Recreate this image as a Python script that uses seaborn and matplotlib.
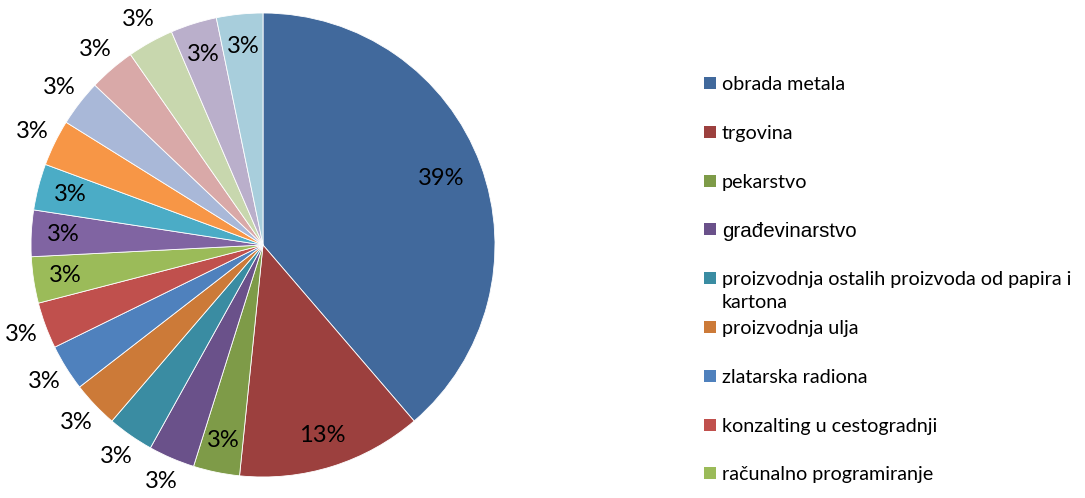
import matplotlib
matplotlib.use("Agg")
import matplotlib.pyplot as plt
import seaborn as sns
import numpy as np
from matplotlib.patches import Rectangle

# counts per activity, clockwise from 12 o'clock
values = [12, 4, 1, 1, 1, 1, 1, 1, 1, 1, 1, 1, 1, 1, 1, 1, 1]
# only the first nine legend entries are visible in the source
legend_names = [
    "obrada metala",
    "trgovina",
    "pekarstvo",
    "građevinarstvo",
    "proizvodnja ostalih proizvoda od papira i\nkartona",
    "proizvodnja ulja",
    "zlatarska radiona",
    "konzalting u cestogradnji",
    "računalno programiranje",
]
colors = [
    "#41699C", "#9C403E", "#7E9B48", "#6A518A", "#3A8CA2", "#CC7A38",
    "#4F81BD", "#C0504D", "#9BBB59", "#8064A2", "#4BACC6", "#F79646",
    "#A9B8D8", "#D9A9A8", "#C8D7AE", "#BAAFCB", "#A8CEDC",
]
# where Excel put each percentage label
label_side = ["in", "in", "in", "out", "out", "out", "out", "out", "in",
              "in", "in", "out", "out", "out", "out", "in", "in"]

sns.set_theme(style="white")
plt.rcParams["font.family"] = ["Lato", "DejaVu Sans"]

fig = plt.figure(figsize=(10.85, 4.98), dpi=100)
W, H = 1085, 498
cx, cy, r = 263, 245, 232
ax = fig.add_axes([(cx - r) / W, (H - cy - r) / H, 2 * r / W, 2 * r / H])

wedges, _ = ax.pie(
    values,
    colors=colors,
    startangle=90,
    counterclock=False,
    wedgeprops=dict(edgecolor="white", linewidth=0.6),
)
ax.set_xlim(-1, 1)
ax.set_ylim(-1, 1)
ax.set_aspect("equal")
ax.axis("off")

total = sum(values)
radius = {"in": 0.86, "out": 1.11}
for i, (w, v) in enumerate(zip(wedges, values)):
    mid = np.deg2rad((w.theta1 + w.theta2) / 2)
    rr = radius[label_side[i]]
    if i == 0:
        rr = 0.82
    ax.text(rr * np.cos(mid), rr * np.sin(mid), f"{round(100 * v / total)}%",
            ha="center", va="center", fontsize=17, color="black", clip_on=False)

# legend drawn as in the source: fixed slots, text hanging from the top
x0, y0, step = 704, 83, 48.8
for i, name in enumerate(legend_names):
    y = y0 + i * step
    fig.add_artist(Rectangle((x0 / W, 1 - (y + 6) / H), 12 / W, 12 / H,
                             transform=fig.transFigure, color=colors[i], lw=0))
    if name == "građevinarstvo":
        fam, fs = ["Liberation Sans"], 14.8
    else:
        fam, fs = ["Lato", "DejaVu Sans"], 14.2
    fig.text(722 / W, 1 - (y - 7) / H, name, ha="left", va="top",
             fontsize=fs, family=fam, color="black", linespacing=1.4)

fig.savefig("out.png", dpi=100)
